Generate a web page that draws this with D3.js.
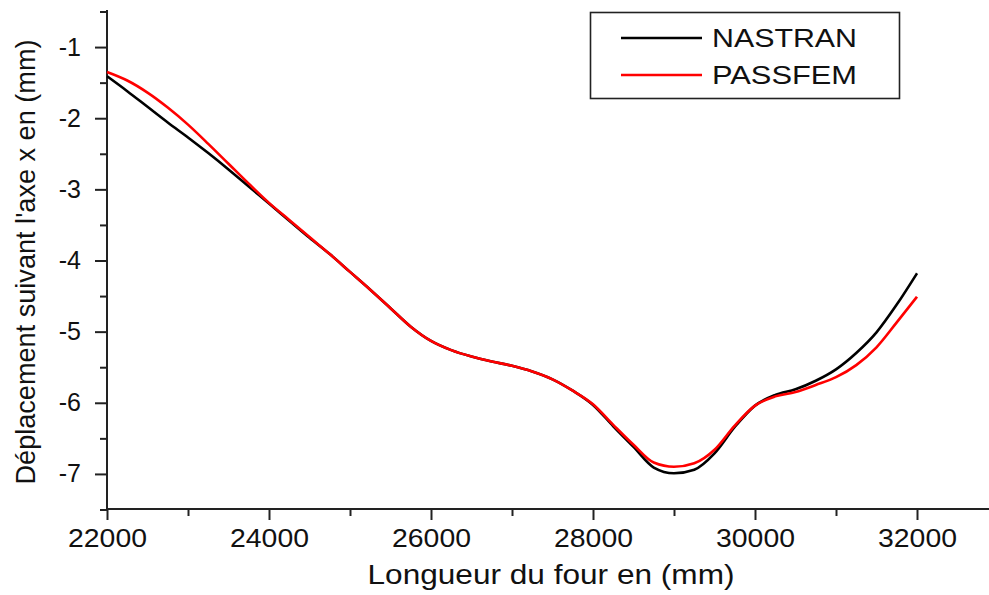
<!DOCTYPE html>
<html>
<head>
<meta charset="utf-8">
<script src="https://cdn.jsdelivr.net/npm/d3@7"></script>
<style>
  html, body { margin: 0; padding: 0; background: #fff; }
  svg { display: block; }
  text { font-family: "Liberation Sans", Arial, sans-serif; fill: #111; }
</style>
</head>
<body>
<svg id="chart" width="989" height="595"></svg>
<script>
// Position along the furnace (mm)
const positions = [
  22000, 22250, 22500, 22750, 23000, 23250, 23500, 23750, 24000, 24250,
  24500, 24750, 25000, 25250, 25500, 25750, 26000, 26250, 26500, 26750,
  27000, 27250, 27500, 27750, 28000, 28250, 28500, 28750, 29000, 29250,
  29500, 29750, 30000, 30250, 30500, 30750, 31000, 31250, 31500, 31750, 32000
];

// Displacement along x (mm), NASTRAN solution
const nastran = [
  -1.41, -1.62, -1.84, -2.06, -2.27, -2.49, -2.72, -2.96, -3.20, -3.44,
  -3.68, -3.91, -4.16, -4.41, -4.67, -4.93, -5.13, -5.26, -5.35, -5.42,
  -5.48, -5.56, -5.67, -5.83, -6.03, -6.33, -6.62, -6.91, -6.99, -6.94,
  -6.71, -6.34, -6.04, -5.89, -5.81, -5.69, -5.53, -5.30, -5.01, -4.62, -4.18
];

// Displacement along x (mm), PASSFEM solution
const passfem = [
  -1.35, -1.47, -1.64, -1.85, -2.09, -2.36, -2.64, -2.92, -3.19, -3.43,
  -3.67, -3.91, -4.16, -4.41, -4.67, -4.93, -5.13, -5.26, -5.35, -5.42,
  -5.48, -5.56, -5.67, -5.83, -6.02, -6.31, -6.59, -6.84, -6.90, -6.85,
  -6.66, -6.32, -6.04, -5.91, -5.85, -5.75, -5.64, -5.47, -5.22, -4.87, -4.51
];

const seriesNames = ["NASTRAN", "PASSFEM"];
const seriesColors = ["#000000", "#ff0000"];

const xMajorTicks = [22000, 24000, 26000, 28000, 30000, 32000];
const xMinorTicks = [23000, 25000, 27000, 29000, 31000, 33000];
const yMajorTicks = [-7, -6, -5, -4, -3, -2, -1];
const yMinorTicks = [-7.5, -6.5, -5.5, -4.5, -3.5, -2.5, -1.5, -0.5];

const xTitle = "Longueur du four en (mm)";
const yTitle = "Déplacement suivant l'axe x en (mm)";

const svg = d3.select("#chart");
const axisColor = "#222";

const x = d3.scaleLinear().domain([22000, 33000]).range([107, 998]);
const y = d3.scaleLinear().domain([-7.5, -0.5]).range([509.5, 11.5]);

// Minor ticks (no labels)
svg.append("g")
  .attr("transform", "translate(107,0)")
  .call(d3.axisLeft(y).tickValues(yMinorTicks).tickSize(7).tickSizeOuter(0).tickFormat(""))
  .call(g => g.select(".domain").remove());
svg.append("g")
  .attr("transform", "translate(0,509)")
  .call(d3.axisBottom(x).tickValues(xMinorTicks).tickSize(7).tickSizeOuter(0).tickFormat(""))
  .call(g => g.select(".domain").remove());

// Y axis (plain hyphen for the minus sign)
const yAxis = svg.append("g")
  .attr("transform", "translate(107,0)")
  .call(d3.axisLeft(y).tickValues(yMajorTicks).tickSize(12).tickPadding(14).tickSizeOuter(0).tickFormat(d => String(d)));
yAxis.select(".domain").attr("d", "M0,10V509.5");
yAxis.selectAll("text").style("font-size", "25px").attr("font-family", null);

// X axis
const xAxis = svg.append("g")
  .attr("transform", "translate(0,509)")
  .call(d3.axisBottom(x).tickValues(xMajorTicks).tickSize(11).tickPadding(9).tickSizeOuter(0).tickFormat(d => String(d)));
xAxis.select(".domain").attr("d", "M107,0H989");
xAxis.selectAll("text").style("font-size", "25px").attr("font-family", null)
  .attr("textLength", 79).attr("lengthAdjust", "spacingAndGlyphs");

svg.selectAll(".domain, .tick line")
  .attr("stroke", axisColor).attr("stroke-width", 2);
svg.selectAll(".tick text").attr("fill", "#111");

// Curves
const line = d3.line()
  .x((d, i) => x(positions[i]))
  .y(d => y(d))
  .curve(d3.curveMonotoneX);

[nastran, passfem].forEach((vals, k) => {
  svg.append("path")
    .datum(vals)
    .attr("fill", "none")
    .attr("stroke", seriesColors[k])
    .attr("stroke-width", 2.6)
    .attr("stroke-linejoin", "round")
    .attr("d", line);
});

// Legend
const legend = svg.append("g");
legend.append("rect")
  .attr("x", 590.5).attr("y", 12.5).attr("width", 309).attr("height", 86)
  .attr("fill", "#fff").attr("stroke", axisColor).attr("stroke-width", 1.6);
seriesNames.forEach((name, k) => {
  const ly = k === 0 ? 38 : 75;
  legend.append("line")
    .attr("x1", 621).attr("x2", 702).attr("y1", ly).attr("y2", ly)
    .attr("stroke", seriesColors[k]).attr("stroke-width", 2.6);
  legend.append("text")
    .attr("x", 712).attr("y", ly + 9)
    .style("font-size", "25px")
    .attr("textLength", 145).attr("lengthAdjust", "spacingAndGlyphs")
    .text(name);
});

// Axis titles
svg.append("text")
  .attr("x", 551).attr("y", 584)
  .attr("text-anchor", "middle")
  .style("font-size", "28px")
  .attr("textLength", 367).attr("lengthAdjust", "spacingAndGlyphs")
  .text(xTitle);

svg.append("text")
  .attr("transform", "translate(35,262) rotate(-90)")
  .attr("text-anchor", "middle")
  .style("font-size", "28px")
  .attr("textLength", 445).attr("lengthAdjust", "spacingAndGlyphs")
  .text(yTitle);
</script>
</body>
</html>
